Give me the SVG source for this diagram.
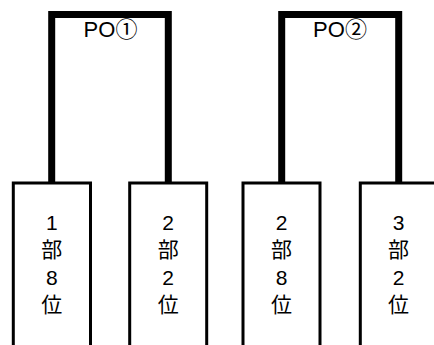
<svg xmlns="http://www.w3.org/2000/svg" width="434" height="345" viewBox="0 0 434 345">
<style>
.bracket{fill:none;stroke:#000;stroke-width:7;stroke-linejoin:miter}
.box{fill:#fff;stroke:#000;stroke-width:3}
.lbl{font-family:"Liberation Sans","Noto Sans CJK JP",sans-serif;font-size:21px;fill:#000;text-anchor:middle}
.po{font-family:"Liberation Sans","Noto Sans CJK JP",sans-serif;font-size:22px;fill:#000;text-anchor:middle}
</style>
<rect width="434" height="345" fill="#fff"/>
<g id="connectors">
<path class="bracket" d="M51.7,183 V14.6 H168.3 V183"/>
<path class="bracket" d="M281.7,183 V14.6 H398.7 V183"/>
</g>
<g id="po1"><text class="po" x="110.5" y="36.7">PO①</text></g>
<g id="po2"><text class="po" x="340" y="36.7">PO②</text></g>
<g id="box1">
<rect class="box" x="13.3" y="183" width="77.2" height="180"/>
<text class="lbl" x="51.8"><tspan x="51.8" y="229.5">1</tspan><tspan x="51.8" y="257">部</tspan><tspan x="51.8" y="284.5">8</tspan><tspan x="51.8" y="312">位</tspan></text>
</g>
<g id="box2">
<rect class="box" x="129.7" y="183" width="77" height="180"/>
<text class="lbl" x="168.2"><tspan x="168.2" y="229.5">2</tspan><tspan x="168.2" y="257">部</tspan><tspan x="168.2" y="284.5">2</tspan><tspan x="168.2" y="312">位</tspan></text>
</g>
<g id="box3">
<rect class="box" x="243" y="183" width="77" height="180"/>
<text class="lbl" x="281.5"><tspan x="281.5" y="229.5">2</tspan><tspan x="281.5" y="257">部</tspan><tspan x="281.5" y="284.5">8</tspan><tspan x="281.5" y="312">位</tspan></text>
</g>
<g id="box4">
<rect class="box" x="360.3" y="183" width="77" height="180"/>
<text class="lbl" x="398.5"><tspan x="398.5" y="229.5">3</tspan><tspan x="398.5" y="257">部</tspan><tspan x="398.5" y="284.5">2</tspan><tspan x="398.5" y="312">位</tspan></text>
</g>
</svg>
